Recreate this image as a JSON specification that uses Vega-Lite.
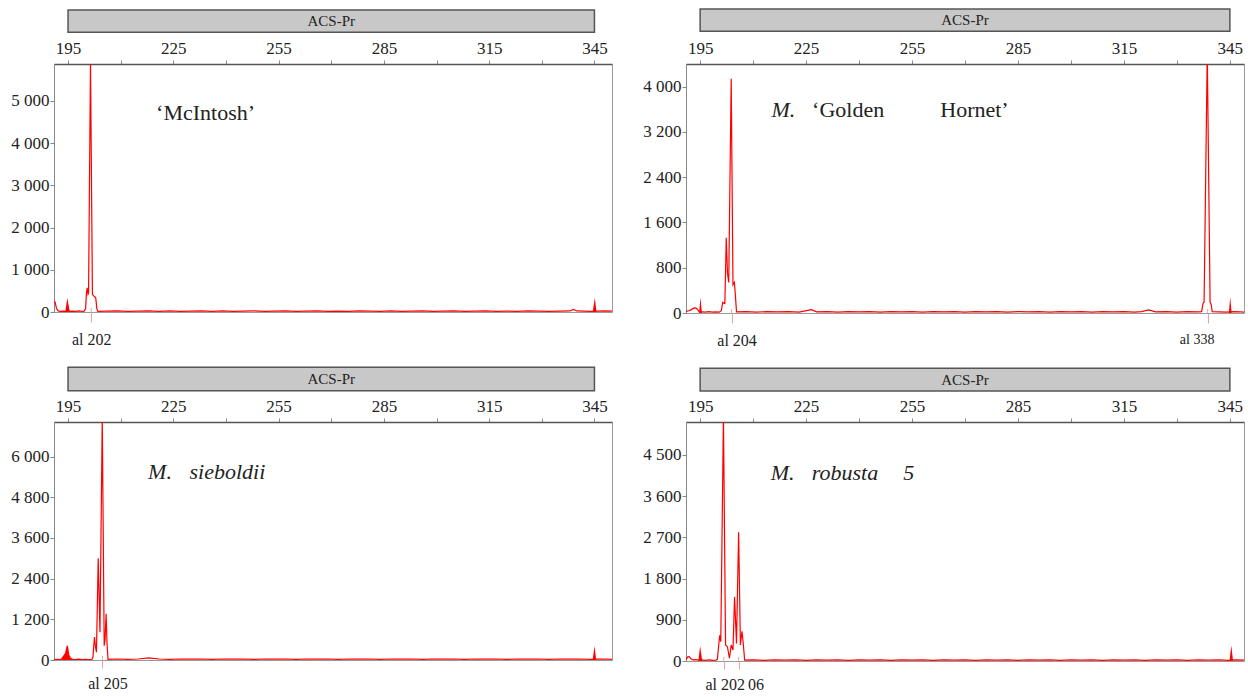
{
"$schema": "https://vega.github.io/schema/vega-lite/v6.json",
"background": "white",
"padding": {"left": 10, "top": 7, "right": 0, "bottom": 0},
"config": {
  "view": {"stroke": "#9a9a9a", "strokeWidth": 1},
  "axis": {"labelFont": "Liberation Serif", "labelColor": "#222", "grid": false, "labelOverlap": false, "labelFlush": false, "tickColor": "#888", "domainColor": "#888"},
  "text": {"font": "Liberation Serif", "color": "#222"}
},
"datasets": {
  "t1": [{"size":191.0,"rfu":250},{"size":191.3,"rfu":240},{"size":191.7,"rfu":90},{"size":192.2,"rfu":25},{"size":192.8,"rfu":15},{"size":193.5,"rfu":20},{"size":194.2,"rfu":15},{"size":194.8,"rfu":25},{"size":195.5,"rfu":15},{"size":196.3,"rfu":20},{"size":197.2,"rfu":15},{"size":198.1,"rfu":25},{"size":199.0,"rfu":15},{"size":199.6,"rfu":20},{"size":200.0,"rfu":80},{"size":200.25,"rfu":450},{"size":200.45,"rfu":570},{"size":200.7,"rfu":420},{"size":200.85,"rfu":450},{"size":201.4,"rfu":5950},{"size":201.95,"rfu":420},{"size":202.3,"rfu":380},{"size":202.6,"rfu":360},{"size":202.9,"rfu":330},{"size":203.2,"rfu":80},{"size":203.5,"rfu":15},{"size":206,"rfu":20},{"size":209,"rfu":25},{"size":212,"rfu":15},{"size":215,"rfu":20},{"size":218,"rfu":25},{"size":221,"rfu":15},{"size":224,"rfu":25},{"size":227,"rfu":15},{"size":230,"rfu":20},{"size":233,"rfu":25},{"size":236,"rfu":15},{"size":239,"rfu":25},{"size":242,"rfu":15},{"size":245,"rfu":20},{"size":248,"rfu":25},{"size":251,"rfu":15},{"size":254,"rfu":20},{"size":257,"rfu":25},{"size":260,"rfu":15},{"size":263,"rfu":20},{"size":266,"rfu":25},{"size":269,"rfu":15},{"size":272,"rfu":20},{"size":275,"rfu":15},{"size":278,"rfu":25},{"size":281,"rfu":20},{"size":284,"rfu":15},{"size":287,"rfu":25},{"size":290,"rfu":15},{"size":293,"rfu":20},{"size":296,"rfu":25},{"size":299,"rfu":15},{"size":302,"rfu":20},{"size":305,"rfu":25},{"size":308,"rfu":15},{"size":311,"rfu":20},{"size":314,"rfu":25},{"size":317,"rfu":15},{"size":320,"rfu":20},{"size":323,"rfu":15},{"size":326,"rfu":25},{"size":329,"rfu":20},{"size":332,"rfu":15},{"size":335,"rfu":20},{"size":338,"rfu":25},{"size":339,"rfu":60},{"size":340,"rfu":25},{"size":342,"rfu":20},{"size":344,"rfu":15},{"size":346,"rfu":20},{"size":348,"rfu":25},{"size":350,"rfu":20}],
  "f1": [{"size":194.2,"rfu":0},{"size":194.8,"rfu":330},{"size":195.5,"rfu":0},{"size":344.5,"rfu":0},{"size":345.1,"rfu":330},{"size":345.6,"rfu":0}],
  "a1": [{"size":201.6,"allele":"al 202"}],
  "t2": [{"size":191.0,"rfu":30},{"size":191.8,"rfu":40},{"size":192.5,"rfu":60},{"size":193.2,"rfu":85},{"size":193.8,"rfu":90},{"size":194.3,"rfu":60},{"size":194.7,"rfu":25},{"size":195.6,"rfu":20},{"size":196.5,"rfu":15},{"size":197.5,"rfu":25},{"size":198.5,"rfu":15},{"size":199.5,"rfu":20},{"size":200.4,"rfu":15},{"size":201.0,"rfu":40},{"size":201.4,"rfu":190},{"size":201.7,"rfu":175},{"size":202.0,"rfu":170},{"size":202.4,"rfu":1330},{"size":202.75,"rfu":700},{"size":203.1,"rfu":540},{"size":203.8,"rfu":4140},{"size":204.3,"rfu":500},{"size":204.7,"rfu":540},{"size":205.0,"rfu":300},{"size":205.3,"rfu":20},{"size":208,"rfu":25},{"size":211,"rfu":15},{"size":214,"rfu":25},{"size":217,"rfu":20},{"size":220,"rfu":25},{"size":223,"rfu":15},{"size":226.5,"rfu":60},{"size":228,"rfu":20},{"size":231,"rfu":25},{"size":234,"rfu":15},{"size":237,"rfu":25},{"size":240,"rfu":20},{"size":243,"rfu":25},{"size":246,"rfu":15},{"size":249,"rfu":25},{"size":252,"rfu":20},{"size":255,"rfu":25},{"size":258,"rfu":15},{"size":261,"rfu":25},{"size":264,"rfu":20},{"size":267,"rfu":25},{"size":270,"rfu":15},{"size":273,"rfu":25},{"size":276,"rfu":20},{"size":279,"rfu":25},{"size":282,"rfu":15},{"size":285,"rfu":25},{"size":288,"rfu":20},{"size":291,"rfu":25},{"size":294,"rfu":15},{"size":297,"rfu":25},{"size":300,"rfu":20},{"size":303,"rfu":25},{"size":306,"rfu":15},{"size":309,"rfu":25},{"size":312,"rfu":20},{"size":315,"rfu":25},{"size":318,"rfu":15},{"size":320,"rfu":25},{"size":322,"rfu":55},{"size":324,"rfu":20},{"size":327,"rfu":25},{"size":330,"rfu":15},{"size":333,"rfu":25},{"size":336,"rfu":20},{"size":337.0,"rfu":25},{"size":337.4,"rfu":170},{"size":337.7,"rfu":190},{"size":338.6,"rfu":4600},{"size":339.4,"rfu":190},{"size":339.7,"rfu":150},{"size":340.0,"rfu":25},{"size":342,"rfu":20},{"size":344,"rfu":15},{"size":346,"rfu":25},{"size":348,"rfu":20},{"size":349,"rfu":15}],
  "f2": [{"size":194.7,"rfu":0},{"size":195.1,"rfu":270},{"size":195.5,"rfu":0},{"size":344.7,"rfu":0},{"size":345.1,"rfu":280},{"size":345.5,"rfu":0}],
  "a2": [{"size":203.9,"allele":"al 204"},{"size":338.7,"allele":"al 338"}],
  "t3": [{"size":191.0,"rfu":10},{"size":192.0,"rfu":20},{"size":192.8,"rfu":15},{"size":193.2,"rfu":40},{"size":193.8,"rfu":120},{"size":194.3,"rfu":200},{"size":194.8,"rfu":420},{"size":195.2,"rfu":150},{"size":195.7,"rfu":50},{"size":196.3,"rfu":20},{"size":197.0,"rfu":15},{"size":198.0,"rfu":25},{"size":199.0,"rfu":15},{"size":200.0,"rfu":20},{"size":201.0,"rfu":15},{"size":201.8,"rfu":20},{"size":202.1,"rfu":80},{"size":202.35,"rfu":450},{"size":202.55,"rfu":680},{"size":202.8,"rfu":400},{"size":203.1,"rfu":230},{"size":203.6,"rfu":3000},{"size":204.1,"rfu":820},{"size":204.75,"rfu":7150},{"size":205.3,"rfu":420},{"size":205.55,"rfu":600},{"size":205.85,"rfu":1360},{"size":206.1,"rfu":500},{"size":206.4,"rfu":20},{"size":209,"rfu":30},{"size":212,"rfu":20},{"size":215,"rfu":30},{"size":218,"rfu":60},{"size":221,"rfu":30},{"size":224,"rfu":20},{"size":227,"rfu":30},{"size":230,"rfu":25},{"size":233,"rfu":30},{"size":236,"rfu":20},{"size":239,"rfu":30},{"size":242,"rfu":25},{"size":245,"rfu":30},{"size":248,"rfu":20},{"size":251,"rfu":30},{"size":254,"rfu":25},{"size":257,"rfu":30},{"size":260,"rfu":20},{"size":263,"rfu":30},{"size":266,"rfu":25},{"size":269,"rfu":30},{"size":272,"rfu":20},{"size":275,"rfu":30},{"size":278,"rfu":25},{"size":281,"rfu":30},{"size":284,"rfu":20},{"size":287,"rfu":30},{"size":290,"rfu":25},{"size":293,"rfu":30},{"size":296,"rfu":20},{"size":299,"rfu":30},{"size":302,"rfu":25},{"size":305,"rfu":30},{"size":308,"rfu":20},{"size":311,"rfu":30},{"size":314,"rfu":25},{"size":317,"rfu":30},{"size":320,"rfu":20},{"size":323,"rfu":30},{"size":326,"rfu":25},{"size":329,"rfu":30},{"size":332,"rfu":20},{"size":335,"rfu":30},{"size":338,"rfu":25},{"size":341,"rfu":30},{"size":344,"rfu":20},{"size":346,"rfu":25},{"size":348,"rfu":30},{"size":350,"rfu":20}],
  "f3": [{"size":193.0,"rfu":0},{"size":193.8,"rfu":120},{"size":194.3,"rfu":200},{"size":194.8,"rfu":420},{"size":195.2,"rfu":150},{"size":195.7,"rfu":50},{"size":196.3,"rfu":0},{"size":344.5,"rfu":0},{"size":345.0,"rfu":410},{"size":345.5,"rfu":0}],
  "a3": [{"size":204.8,"allele":"al 205"}],
  "t4": [{"size":191.0,"rfu":30},{"size":191.5,"rfu":90},{"size":191.9,"rfu":95},{"size":192.4,"rfu":50},{"size":193.0,"rfu":25},{"size":193.8,"rfu":30},{"size":194.5,"rfu":20},{"size":195.5,"rfu":25},{"size":196.5,"rfu":15},{"size":197.5,"rfu":25},{"size":198.5,"rfu":15},{"size":199.5,"rfu":20},{"size":199.9,"rfu":40},{"size":200.3,"rfu":380},{"size":200.55,"rfu":560},{"size":200.85,"rfu":420},{"size":201.6,"rfu":5350},{"size":202.2,"rfu":350},{"size":202.5,"rfu":330},{"size":202.75,"rfu":300},{"size":203.3,"rfu":60},{"size":203.8,"rfu":350},{"size":204.3,"rfu":240},{"size":204.75,"rfu":1400},{"size":205.3,"rfu":385},{"size":205.9,"rfu":2810},{"size":206.4,"rfu":350},{"size":206.85,"rfu":650},{"size":207.2,"rfu":400},{"size":207.6,"rfu":20},{"size":210,"rfu":25},{"size":213,"rfu":15},{"size":216,"rfu":25},{"size":219,"rfu":20},{"size":222,"rfu":25},{"size":225,"rfu":15},{"size":228,"rfu":25},{"size":231,"rfu":20},{"size":234,"rfu":25},{"size":237,"rfu":15},{"size":240,"rfu":25},{"size":243,"rfu":20},{"size":246,"rfu":25},{"size":249,"rfu":15},{"size":252,"rfu":25},{"size":255,"rfu":20},{"size":258,"rfu":25},{"size":261,"rfu":15},{"size":264,"rfu":25},{"size":267,"rfu":20},{"size":270,"rfu":25},{"size":273,"rfu":15},{"size":276,"rfu":25},{"size":279,"rfu":20},{"size":282,"rfu":25},{"size":285,"rfu":15},{"size":288,"rfu":25},{"size":291,"rfu":20},{"size":294,"rfu":25},{"size":297,"rfu":15},{"size":300,"rfu":25},{"size":303,"rfu":20},{"size":306,"rfu":25},{"size":309,"rfu":15},{"size":312,"rfu":25},{"size":315,"rfu":20},{"size":318,"rfu":25},{"size":321,"rfu":15},{"size":324,"rfu":25},{"size":327,"rfu":20},{"size":330,"rfu":25},{"size":333,"rfu":15},{"size":336,"rfu":25},{"size":339,"rfu":20},{"size":342,"rfu":25},{"size":344.5,"rfu":15},{"size":346.5,"rfu":25},{"size":349,"rfu":20}],
  "f4": [{"size":194.5,"rfu":0},{"size":195.0,"rfu":330},{"size":195.6,"rfu":0},{"size":344.9,"rfu":0},{"size":345.4,"rfu":340},{"size":345.9,"rfu":0}],
  "a4": [{"size":201.7,"allele":"al 202"},{"size":205.9,"allele":"06"}],
  "hdr": [{"from":195,"to":345,"name":"ACS-Pr"}]
},
"spacing": 17,
"vconcat": [
 {"hconcat": [
  {"width": 558, "height": 248,
   "resolve": {"axis": {"x": "independent"}},
   "layer": [
    {"data": {"name": "hdr"}, "mark": {"type": "rect", "fill": "#c8c8c8", "stroke": "#555", "strokeWidth": 1.5},
     "encoding": {"x": {"field": "from", "type": "quantitative", "scale": {"domain": [191, 350], "nice": false, "zero": false}, "axis": null},
                  "x2": {"field": "to"},
                  "y": {"datum": 7148, "type": "quantitative", "scale": {"domain": [0, 5870], "nice": false}, "title": null},
                  "y2": {"datum": 6620}}},
    {"data": {"name": "hdr"}, "mark": {"type": "text", "fontSize": 15, "baseline": "middle"},
     "encoding": {"x": {"datum": 270, "type": "quantitative", "axis": null}, "y": {"datum": 6883, "type": "quantitative", "title": null}, "text": {"field": "name"}}},
    {"data": {"name": "f1"}, "mark": {"type": "area", "color": "#ff0000", "clip": true},
     "encoding": {"x": {"field": "size", "type": "quantitative", "axis": null}, "y": {"field": "rfu", "type": "quantitative", "title": null, "stack": null}}},
    {"data": {"name": "t1"}, "mark": {"type": "line", "color": "#ff0000", "strokeWidth": 1.2, "clip": true},
     "encoding": {
      "x": {"field": "size", "type": "quantitative", "title": null, "axis": {"orient": "top", "values": [195,210,225,240,255,270,285,300,315,330,345], "labelExpr": "(datum.value-195)%30==0 ? format(datum.value,'d') : ''", "tickSize": 4, "labelPadding": 3, "labelFontSize": 17, "domainColor": "#555", "domainWidth": 1.5}},
      "y": {"field": "rfu", "type": "quantitative", "title": null, "axis": {"orient": "left", "values": [0,500,1000,1500,2000,2500,3000,3500,4000,4500,5000,5500], "labelExpr": "datum.value%1000==0 ? replace(format(datum.value,','), ',', ' ') : ''", "tickSize": 4, "labelPadding": 1, "labelFontSize": 17}}}},
    {"data": {"name": "a1"}, "mark": {"type": "rule", "color": "#f4a0a0"},
     "encoding": {"x": {"field": "size", "type": "quantitative", "title": null, "axis": {"orient": "bottom", "values": [201.6], "labelExpr": "'al 202'", "domain": false, "tickColor": "#f4a0a0", "tickSize": 10, "labelPadding": 9, "labelFontSize": 16}},
                  "y": {"datum": 0, "type": "quantitative", "title": null}, "y2": {"datum": 95}}},
    {"data": {"values": [{}]}, "mark": {"type": "text", "text": "‘McIntosh’", "fontSize": 22, "align": "left", "baseline": "alphabetic"},
     "encoding": {"x": {"datum": 220.1, "type": "quantitative", "axis": null}, "y": {"datum": 4544, "type": "quantitative", "title": null}}}
   ]},
  {"width": 558, "height": 249,
   "resolve": {"axis": {"x": "independent"}},
   "layer": [
    {"data": {"name": "hdr"}, "mark": {"type": "rect", "fill": "#c8c8c8", "stroke": "#555", "strokeWidth": 1.5},
     "encoding": {"x": {"field": "from", "type": "quantitative", "scale": {"domain": [191, 349], "nice": false, "zero": false}, "axis": null},
                  "x2": {"field": "to"},
                  "y": {"datum": 5372, "type": "quantitative", "scale": {"domain": [0, 4400], "nice": false}, "title": null},
                  "y2": {"datum": 4978}}},
    {"data": {"name": "hdr"}, "mark": {"type": "text", "fontSize": 15, "baseline": "middle"},
     "encoding": {"x": {"datum": 270, "type": "quantitative", "axis": null}, "y": {"datum": 5174, "type": "quantitative", "title": null}, "text": {"field": "name"}}},
    {"data": {"name": "f2"}, "mark": {"type": "area", "color": "#ff0000", "clip": true},
     "encoding": {"x": {"field": "size", "type": "quantitative", "axis": null}, "y": {"field": "rfu", "type": "quantitative", "title": null, "stack": null}}},
    {"data": {"name": "t2"}, "mark": {"type": "line", "color": "#ff0000", "strokeWidth": 1.2, "clip": true},
     "encoding": {
      "x": {"field": "size", "type": "quantitative", "title": null, "axis": {"orient": "top", "values": [195,210,225,240,255,270,285,300,315,330,345], "labelExpr": "(datum.value-195)%30==0 ? format(datum.value,'d') : ''", "tickSize": 4, "labelPadding": 3, "labelFontSize": 17, "domainColor": "#555", "domainWidth": 1.5}},
      "y": {"field": "rfu", "type": "quantitative", "title": null, "axis": {"orient": "left", "values": [0,400,800,1200,1600,2000,2400,2800,3200,3600,4000,4400], "labelExpr": "datum.value%800==0 ? replace(format(datum.value,','), ',', ' ') : ''", "tickSize": 4, "labelPadding": 1, "labelFontSize": 17}}}},
    {"data": {"name": "a2"}, "mark": {"type": "rule", "color": "#f4a0a0"},
     "encoding": {"x": {"field": "size", "type": "quantitative", "title": null, "axis": {"orient": "bottom", "values": [203.9, 338.7], "labelExpr": "datum.value < 300 ? 'al 204' : 'al 338'", "domain": false, "tickColor": "#f4a0a0", "tickSize": 10, "labelPadding": 9, "labelFontSize": {"condition": {"test": "datum.value > 300", "value": 14}, "value": 16}, "labelOffset": {"condition": {"test": "datum.value > 300", "value": -11}, "value": 5}}},
                  "y": {"datum": 0, "type": "quantitative", "title": null}, "y2": {"datum": 70}}},
    {"data": {"values": [{}]}, "mark": {"type": "text", "text": "M.", "fontSize": 22, "fontStyle": "italic", "align": "left", "baseline": "alphabetic"},
     "encoding": {"x": {"datum": 215.2, "type": "quantitative", "axis": null}, "y": {"datum": 3464, "type": "quantitative", "title": null}}},
    {"data": {"values": [{}]}, "mark": {"type": "text", "text": "‘Golden", "fontSize": 22, "align": "left", "baseline": "alphabetic"},
     "encoding": {"x": {"datum": 226.7, "type": "quantitative", "axis": null}, "y": {"datum": 3464, "type": "quantitative", "title": null}}},
    {"data": {"values": [{}]}, "mark": {"type": "text", "text": "Hornet’", "fontSize": 22, "align": "left", "baseline": "alphabetic"},
     "encoding": {"x": {"datum": 263.0, "type": "quantitative", "axis": null}, "y": {"datum": 3464, "type": "quantitative", "title": null}}}
   ]}
 ], "spacing": 29},
 {"hconcat": [
  {"width": 558, "height": 238,
   "resolve": {"axis": {"x": "independent"}},
   "layer": [
    {"data": {"name": "hdr"}, "mark": {"type": "rect", "fill": "#c8c8c8", "stroke": "#555", "strokeWidth": 1.5},
     "encoding": {"x": {"field": "from", "type": "quantitative", "scale": {"domain": [191, 350], "nice": false, "zero": false}, "axis": null},
                  "x2": {"field": "to"},
                  "y": {"datum": 8634, "type": "quantitative", "scale": {"domain": [0, 7020], "nice": false}, "title": null},
                  "y2": {"datum": 7943}}},
    {"data": {"name": "hdr"}, "mark": {"type": "text", "fontSize": 15, "baseline": "middle"},
     "encoding": {"x": {"datum": 270, "type": "quantitative", "axis": null}, "y": {"datum": 8288, "type": "quantitative", "title": null}, "text": {"field": "name"}}},
    {"data": {"name": "f3"}, "mark": {"type": "area", "color": "#ff0000", "clip": true},
     "encoding": {"x": {"field": "size", "type": "quantitative", "axis": null}, "y": {"field": "rfu", "type": "quantitative", "title": null, "stack": null}}},
    {"data": {"name": "t3"}, "mark": {"type": "line", "color": "#ff0000", "strokeWidth": 1.2, "clip": true},
     "encoding": {
      "x": {"field": "size", "type": "quantitative", "title": null, "axis": {"orient": "top", "values": [195,210,225,240,255,270,285,300,315,330,345], "labelExpr": "(datum.value-195)%30==0 ? format(datum.value,'d') : ''", "tickSize": 4, "labelPadding": 3, "labelFontSize": 17, "domainColor": "#555", "domainWidth": 1.5}},
      "y": {"field": "rfu", "type": "quantitative", "title": null, "axis": {"orient": "left", "values": [0,600,1200,1800,2400,3000,3600,4200,4800,5400,6000,6600], "labelExpr": "datum.value%1200==0 ? replace(format(datum.value,','), ',', ' ') : ''", "tickSize": 4, "labelPadding": 1, "labelFontSize": 17}}}},
    {"data": {"name": "a3"}, "mark": {"type": "rule", "color": "#f4a0a0"},
     "encoding": {"x": {"field": "size", "type": "quantitative", "title": null, "axis": {"orient": "bottom", "values": [204.8], "labelExpr": "'al 205'", "domain": false, "tickColor": "#f4a0a0", "tickSize": 8, "labelPadding": 7, "labelFontSize": 16, "labelOffset": 5}},
                  "y": {"datum": 0, "type": "quantitative", "title": null}, "y2": {"datum": 120}}},
    {"data": {"values": [{}]}, "mark": {"type": "text", "text": "M.", "fontSize": 22, "fontStyle": "italic", "align": "left", "baseline": "alphabetic"},
     "encoding": {"x": {"datum": 217.8, "type": "quantitative", "axis": null}, "y": {"datum": 5339, "type": "quantitative", "title": null}}},
    {"data": {"values": [{}]}, "mark": {"type": "text", "text": "sieboldii", "fontSize": 22, "fontStyle": "italic", "align": "left", "baseline": "alphabetic"},
     "encoding": {"x": {"datum": 229.6, "type": "quantitative", "axis": null}, "y": {"datum": 5339, "type": "quantitative", "title": null}}}
   ]},
  {"width": 558, "height": 239,
   "resolve": {"axis": {"x": "independent"}},
   "layer": [
    {"data": {"name": "hdr"}, "mark": {"type": "rect", "fill": "#c8c8c8", "stroke": "#555", "strokeWidth": 1.5},
     "encoding": {"x": {"field": "from", "type": "quantitative", "scale": {"domain": [191, 349], "nice": false, "zero": false}, "axis": null},
                  "x2": {"field": "to"},
                  "y": {"datum": 6393, "type": "quantitative", "scale": {"domain": [0, 5220], "nice": false}, "title": null},
                  "y2": {"datum": 5897}}},
    {"data": {"name": "hdr"}, "mark": {"type": "text", "fontSize": 15, "baseline": "middle"},
     "encoding": {"x": {"datum": 270, "type": "quantitative", "axis": null}, "y": {"datum": 6144, "type": "quantitative", "title": null}, "text": {"field": "name"}}},
    {"data": {"name": "f4"}, "mark": {"type": "area", "color": "#ff0000", "clip": true},
     "encoding": {"x": {"field": "size", "type": "quantitative", "axis": null}, "y": {"field": "rfu", "type": "quantitative", "title": null, "stack": null}}},
    {"data": {"name": "t4"}, "mark": {"type": "line", "color": "#ff0000", "strokeWidth": 1.2, "clip": true},
     "encoding": {
      "x": {"field": "size", "type": "quantitative", "title": null, "axis": {"orient": "top", "values": [195,210,225,240,255,270,285,300,315,330,345], "labelExpr": "(datum.value-195)%30==0 ? format(datum.value,'d') : ''", "tickSize": 4, "labelPadding": 3, "labelFontSize": 17, "domainColor": "#555", "domainWidth": 1.5}},
      "y": {"field": "rfu", "type": "quantitative", "title": null, "axis": {"orient": "left", "values": [0,450,900,1350,1800,2250,2700,3150,3600,4050,4500,4950], "labelExpr": "datum.value%900==0 ? replace(format(datum.value,','), ',', ' ') : ''", "tickSize": 4, "labelPadding": 1, "labelFontSize": 17}}}},
    {"data": {"name": "a4"}, "mark": {"type": "rule", "color": "#f4a0a0"},
     "encoding": {"x": {"field": "size", "type": "quantitative", "title": null, "axis": {"orient": "bottom", "values": [201.7, 205.9], "labelExpr": "datum.value < 204 ? 'al 202' : '06'", "domain": false, "tickColor": "#f4a0a0", "tickSize": 8, "labelPadding": 7, "labelFontSize": 16, "labelOffset": {"condition": {"test": "datum.value > 204", "value": 17}, "value": 1}}},
                  "y": {"datum": 0, "type": "quantitative", "title": null}, "y2": {"datum": 90}}},
    {"data": {"values": [{}]}, "mark": {"type": "text", "text": "M.", "fontSize": 22, "fontStyle": "italic", "align": "left", "baseline": "alphabetic"},
     "encoding": {"x": {"datum": 215.0, "type": "quantitative", "axis": null}, "y": {"datum": 3953, "type": "quantitative", "title": null}}},
    {"data": {"values": [{}]}, "mark": {"type": "text", "text": "robusta", "fontSize": 22, "fontStyle": "italic", "align": "left", "baseline": "alphabetic"},
     "encoding": {"x": {"datum": 226.6, "type": "quantitative", "axis": null}, "y": {"datum": 3953, "type": "quantitative", "title": null}}},
    {"data": {"values": [{}]}, "mark": {"type": "text", "text": "5", "fontSize": 22, "fontStyle": "italic", "align": "left", "baseline": "alphabetic"},
     "encoding": {"x": {"datum": 252.5, "type": "quantitative", "axis": null}, "y": {"datum": 3953, "type": "quantitative", "title": null}}}
   ]}
 ], "spacing": 29}
]
}
